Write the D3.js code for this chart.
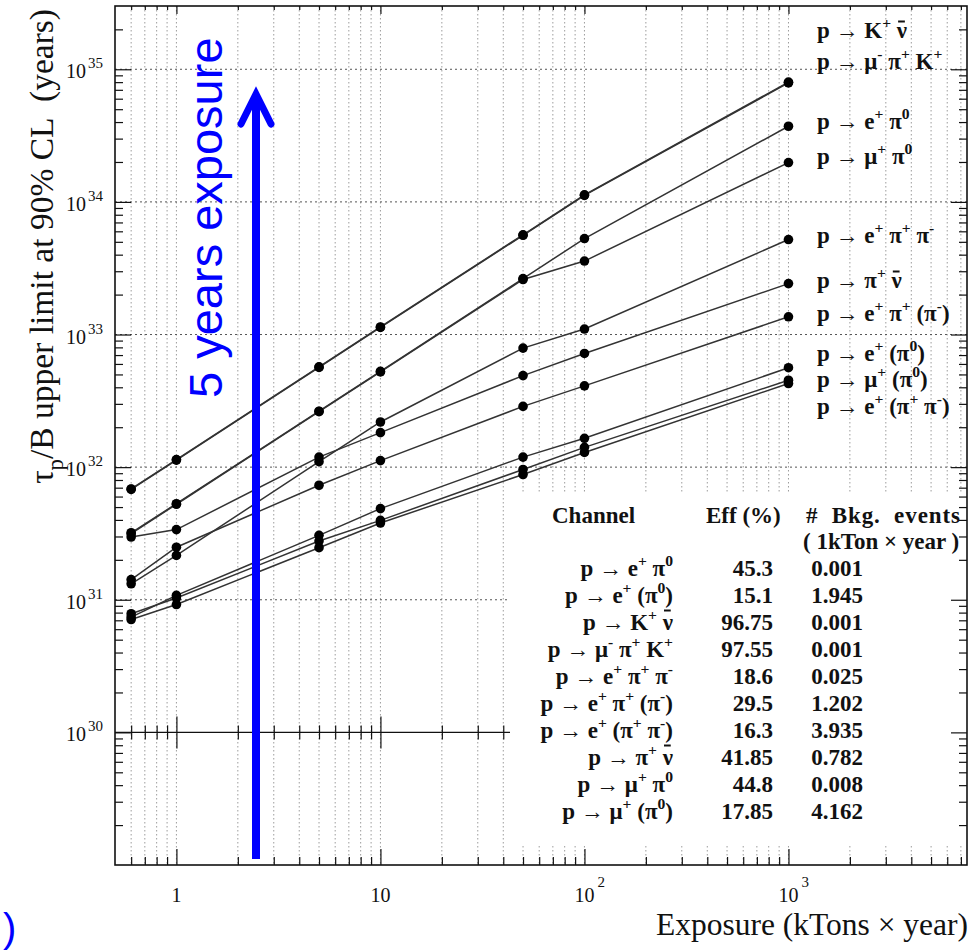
<!DOCTYPE html>
<html>
<head>
<meta charset="utf-8">
<script src="https://cdn.jsdelivr.net/npm/d3@7"></script>
<style>
  body { margin: 0; background: #fff; }
  svg { display: block; }
  text { white-space: pre; }
</style>
</head>
<body>
<svg id="chart" width="972" height="951"></svg>
<script>
// Exposure points (kTon x year)
const exposure = [0.6, 1, 5, 10, 50, 100, 1000];

// 90% CL partial lifetime limits (years) for each decay channel
const limKNubar        = [6.8e31, 1.13e32, 5.65e32, 1.13e33, 5.6e33, 1.12e34, 7.9e34];
const limMuPiK         = [6.85e31, 1.14e32, 5.7e32, 1.14e33, 5.65e33, 1.13e34, 8.0e34];
const limEPi0          = [3.2e31, 5.3e31, 2.64e32, 5.27e32, 2.64e33, 5.29e33, 3.72e34];
const limMuPi0         = [3.15e31, 5.25e31, 2.62e32, 5.22e32, 2.6e33, 3.58e33, 1.98e34];
const limEPiPi         = [1.32e31, 2.16e31, 1.1e32, 2.19e32, 7.9e32, 1.1e33, 5.2e33];
const limPiNubar       = [2.97e31, 3.38e31, 1.19e32, 1.82e32, 4.9e32, 7.2e32, 2.42e33];
const limEPiPiMiss     = [1.42e31, 2.49e31, 7.3e31, 1.12e32, 2.87e32, 4.1e32, 1.36e33];
const limEPi0Miss      = [7.4e30, 1.08e31, 3.06e31, 4.87e31, 1.19e32, 1.65e32, 5.62e32];
const limMuPi0Miss     = [7.85e30, 1.03e31, 2.77e31, 3.97e31, 9.6e31, 1.41e32, 4.52e32];
const limEPiPiBothMiss = [7.1e30, 9.2e30, 2.47e31, 3.79e31, 8.8e31, 1.29e32, 4.27e32];

const seriesValues = [limKNubar, limMuPiK, limEPi0, limMuPi0, limEPiPi,
                      limPiNubar, limEPiPiMiss, limEPi0Miss, limMuPi0Miss, limEPiPiBothMiss];

// Channel names shown next to the line ends (same order as seriesValues)
const seriesLabels = [
  "p → K^{+} \\bar{ν}",
  "p → μ^{-} π^{+} K^{+}",
  "p → e^{+} π^{0}",
  "p → μ^{+} π^{0}",
  "p → e^{+} π^{+} π^{-}",
  "p → π^{+} \\bar{ν}",
  "p → e^{+} π^{+} (π^{-})",
  "p → e^{+} (π^{0})",
  "p → μ^{+} (π^{0})",
  "p → e^{+} (π^{+} π^{-})"
];

// Efficiency / background table
const tableChannels = [
  "p → e^{+} π^{0}",
  "p → e^{+} (π^{0})",
  "p → K^{+} \\bar{ν}",
  "p → μ^{-} π^{+} K^{+}",
  "p → e^{+} π^{+} π^{-}",
  "p → e^{+} π^{+} (π^{-})",
  "p → e^{+} (π^{+} π^{-})",
  "p → π^{+} \\bar{ν}",
  "p → μ^{+} π^{0}",
  "p → μ^{+} (π^{0})"
];
const tableEff = ["45.3", "15.1", "96.75", "97.55", "18.6", "29.5", "16.3", "41.85", "44.8", "17.85"];
const tableBkg = ["0.001", "1.945", "0.001", "0.001", "0.025", "1.202", "3.935", "0.782", "0.008", "4.162"];

// Axis tick labels
const xTickValues = [1, 10, 100, 1000];
const xTickLabels = [["1", ""], ["10", ""], ["10", "2"], ["10", "3"]];
const yTickValues = [1e30, 1e31, 1e32, 1e33, 1e34, 1e35];
const yTickLabels = ["30", "31", "32", "33", "34", "35"];

// ---------------------------------------------------------------------------
const SERIF = "'Liberation Serif', 'Times New Roman', serif";
const SANS = "'Liberation Sans', Arial, sans-serif";

const svg = d3.select("#chart");
const frame = { left: 115, right: 967, top: 6, bottom: 865 };

const x = d3.scaleLog().domain([0.5, 7500]).range([frame.left, frame.right]);
const y = d3.scaleLog().domain([1e29, 3e35]).range([frame.bottom, frame.top]);

// minor / major tick sets on the log axes
const xMinor = [];
for (let d = -1; d <= 3; d++) for (let k = 2; k <= 9; k++) {
  const v = +(k * Math.pow(10, d)).toPrecision(3);
  if (v > 0.5 && v < 7500) xMinor.push(v);
}
const yMinor = [];
for (let d = 29; d <= 35; d++) for (let k = 2; k <= 9; k++) {
  const v = k * Math.pow(10, d);
  if (v > 1e29 && v < 3e35) yMinor.push(v);
}

// Rich text: ^{..} superscript, _{..} subscript, \bar{..} overlined glyph.
// Overlines are drawn as short strokes above the glyph once it is laid out.
function rich(sel, markup, fs, opt = {}) {
  const re = /\^\{([^}]*)\}|_\{([^}]*)\}|\\bar\{([^}]*)\}|([^\^_\\]+)/g;
  let m, shift = 0;
  const barred = [];
  const put = (txt, size, target) => {
    const t = sel.append("tspan").attr("font-size", size).attr("dy", target - shift).text(txt);
    shift = target;
    return t;
  };
  while ((m = re.exec(markup)) !== null) {
    if (m[1] !== undefined) put(m[1], fs * 0.68, -fs * 0.42);
    else if (m[2] !== undefined) put(m[2], fs * 0.68, fs * 0.3);
    else if (m[3] !== undefined) barred.push(put(m[3], fs, 0));
    else put(m[4], fs, 0);
  }
  if (shift !== 0) sel.append("tspan").attr("dy", -shift).text("");
  const parent = d3.select(sel.node().parentNode);
  barred.forEach(t => {
    const b = t.node().getBBox();
    const yb = b.y + b.height * 0.22 - (opt.barLift || 0);
    parent.append("line")
      .attr("x1", b.x + b.width * 0.2).attr("x2", b.x + b.width * 0.8)
      .attr("y1", yb).attr("y2", yb)
      .attr("stroke", "#111").attr("stroke-width", 2);
  });
}

// ---- grid --------------------------------------------------------------
const grid = svg.append("g");
grid.selectAll("line.vx").data(xMinor.concat(xTickValues)).join("line")
  .attr("x1", d => x(d)).attr("x2", d => x(d))
  .attr("y1", frame.top).attr("y2", frame.bottom)
  .attr("stroke", "#9c9c9c").attr("stroke-width", 1)
  .attr("stroke-dasharray", "1.5,2.5");
grid.selectAll("line.hy").data(yTickValues.filter(v => v !== 1e30)).join("line")
  .attr("x1", frame.left).attr("x2", frame.right)
  .attr("y1", d => y(d)).attr("y2", d => y(d))
  .attr("stroke", "#555").attr("stroke-width", 1)
  .attr("stroke-dasharray", "2,3");

// Solid reference axis at 10^30 with ticks on both sides
function tickAxis(gen, values, size, transform) {
  svg.append("g").attr("transform", transform)
    .call(gen.tickValues(values).tickSize(size).tickFormat(""))
    .call(g => g.select(".domain").remove())
    .call(g => g.selectAll(".tick line").attr("stroke", "#111").attr("stroke-width", 1.2));
}
svg.append("line")
  .attr("x1", frame.left).attr("x2", frame.right)
  .attr("y1", y(1e30)).attr("y2", y(1e30))
  .attr("stroke", "#111").attr("stroke-width", 1.4);
tickAxis(d3.axisTop(x), xMinor, 7, `translate(0,${y(1e30)})`);
tickAxis(d3.axisBottom(x), xMinor, 7, `translate(0,${y(1e30)})`);
tickAxis(d3.axisTop(x), xTickValues, 16, `translate(0,${y(1e30)})`);
tickAxis(d3.axisBottom(x), xTickValues, 16, `translate(0,${y(1e30)})`);

// ---- series -------------------------------------------------------------
const line = d3.line().x(d => x(d[0])).y(d => y(d[1]));
const series = seriesValues.map(vals => vals.map((v, i) => [exposure[i], v]));

svg.append("g").selectAll("path").data(series).join("path")
  .attr("d", line).attr("fill", "none")
  .attr("stroke", "#333").attr("stroke-width", 1.5);

svg.append("g").selectAll("g").data(series).join("g")
  .selectAll("circle").data(d => d).join("circle")
  .attr("cx", d => x(d[0])).attr("cy", d => y(d[1])).attr("r", 4.8)
  .attr("fill", "#000");

// ---- channel labels by the line ends --------------------------------------
const labelBaselines = [38, 69, 129, 164, 243, 288, 321, 361, 387, 414];
const labelX = 817;
const labelSize = 23;
const labelGroup = svg.append("g");
seriesLabels.forEach((s, i) => {
  const t = labelGroup.append("text").attr("x", labelX).attr("y", labelBaselines[i])
    .attr("font-family", SERIF).attr("font-weight", "bold").attr("font-size", labelSize)
    .attr("fill", "#111");
  rich(t, s, labelSize, { barLift: 2 });
});

// ---- table --------------------------------------------------------------
svg.append("rect").attr("x", 510).attr("y", 493).attr("width", frame.right - 510).attr("height", 352)
  .attr("fill", "#fff");

const tSize = 23;
const tbl = svg.append("g").attr("font-family", SERIF).attr("font-weight", "bold").attr("fill", "#111");
tbl.append("text").attr("x", 552).attr("y", 523).attr("font-size", tSize).text("Channel");
tbl.append("text").attr("x", 706).attr("y", 523).attr("font-size", tSize).text("Eff (%)");
tbl.append("text").attr("x", 806).attr("y", 523).attr("font-size", tSize)
  .attr("textLength", 154).attr("lengthAdjust", "spacing").text("#  Bkg.  events");
tbl.append("text").attr("x", 803).attr("y", 549).attr("font-size", tSize)
  .text("( 1kTon × year )");

tableChannels.forEach((c, i) => {
  const yb = 576 + i * 27;
  const t = tbl.append("text").attr("x", 673).attr("y", yb).attr("text-anchor", "end").attr("font-size", tSize);
  rich(t, c, tSize, { barLift: 5 });
  tbl.append("text").attr("x", 773).attr("y", yb).attr("text-anchor", "end").attr("font-size", tSize).text(tableEff[i]);
  tbl.append("text").attr("x", 863).attr("y", yb).attr("text-anchor", "end").attr("font-size", tSize).text(tableBkg[i]);
});

// ---- frame and axes ticks ------------------------------------------------
svg.append("rect").attr("x", frame.left).attr("y", frame.top)
  .attr("width", frame.right - frame.left).attr("height", frame.bottom - frame.top)
  .attr("fill", "none").attr("stroke", "#111").attr("stroke-width", 1.6);

tickAxis(d3.axisTop(x), xMinor, 8, `translate(0,${frame.bottom})`);
tickAxis(d3.axisTop(x), xTickValues, 16, `translate(0,${frame.bottom})`);
tickAxis(d3.axisBottom(x), xMinor, 4, `translate(0,${frame.top})`);
tickAxis(d3.axisBottom(x), xTickValues, 8, `translate(0,${frame.top})`);
tickAxis(d3.axisRight(y), yMinor, 8, `translate(${frame.left},0)`);
tickAxis(d3.axisRight(y), yTickValues, 16, `translate(${frame.left},0)`);
tickAxis(d3.axisLeft(y), yMinor, 8, `translate(${frame.right},0)`);
tickAxis(d3.axisLeft(y), yTickValues, 16, `translate(${frame.right},0)`);

// tick labels
const axisText = svg.append("g").attr("font-family", SERIF).attr("fill", "#111");
yTickValues.forEach((v, i) => {
  axisText.append("text").attr("x", 86).attr("y", y(v) + 9)
    .attr("text-anchor", "end").attr("font-size", 20).text("10");
  axisText.append("text").attr("x", 88).attr("y", y(v) - 1)
    .attr("font-size", 15).text(yTickLabels[i]);
});
xTickValues.forEach((v, i) => {
  axisText.append("text").attr("x", x(v)).attr("y", 902)
    .attr("text-anchor", "middle").attr("font-size", 20).text(xTickLabels[i][0]);
  if (xTickLabels[i][1]) {
    axisText.append("text").attr("x", x(v) + 13).attr("y", 887)
      .attr("font-size", 15).text(xTickLabels[i][1]);
  }
});

// axis titles
axisText.append("text").attr("x", 968).attr("y", 935).attr("text-anchor", "end")
  .attr("font-size", 31.5).text("Exposure (kTons × year)");
const yTitle = axisText.append("text")
  .attr("transform", "translate(53,9) rotate(-90)")
  .attr("text-anchor", "end").attr("font-size", 33.5);
rich(yTitle, "τ_{p}/B upper limit at 90% CL  (years)", 33.5);

// ---- exposure annotation -----------------------------------------------
const ann = svg.append("g").attr("stroke", "#0000ff").attr("fill", "none");
ann.append("line").attr("x1", 256).attr("x2", 256).attr("y1", 859).attr("y2", 96)
  .attr("stroke-width", 8);
ann.append("polyline").attr("points", "241,124 256,94 271,124")
  .attr("stroke-width", 7).attr("stroke-linejoin", "miter").attr("stroke-linecap", "round");
svg.append("text").attr("transform", "translate(222,398) rotate(-90)")
  .attr("font-family", SANS).attr("font-size", 47).attr("fill", "#0000ff")
  .text("5 years exposure");
svg.append("text").attr("x", 3).attr("y", 942)
  .attr("font-family", SANS).attr("font-size", 40).attr("fill", "#0000ff").text(")");
</script>
</body>
</html>
